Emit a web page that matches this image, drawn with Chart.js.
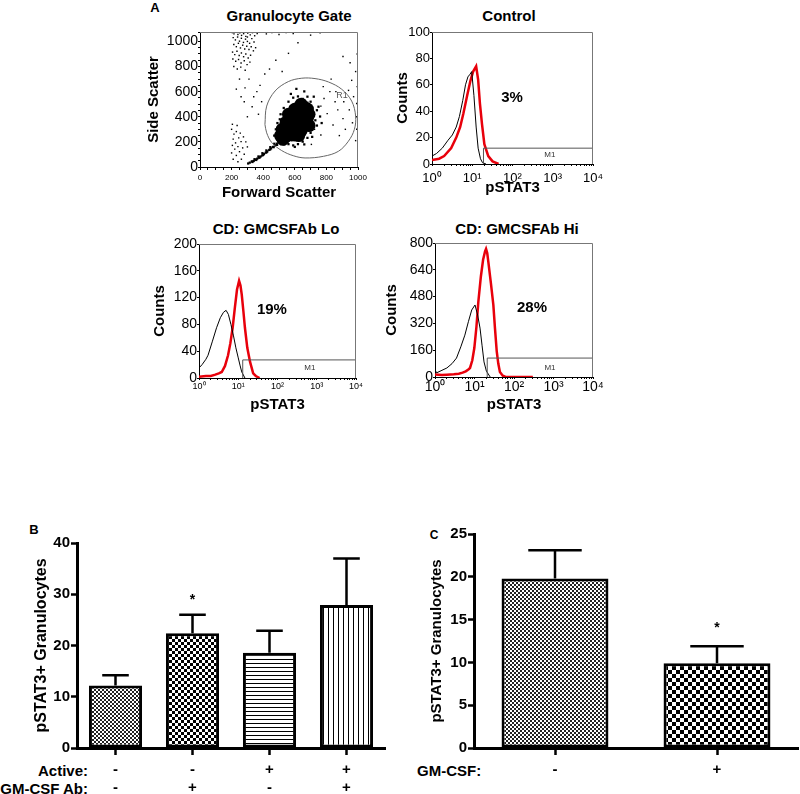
<!DOCTYPE html>
<html>
<head>
<meta charset="utf-8">
<script src="https://cdn.jsdelivr.net/npm/chart.js@4.4.1/dist/chart.umd.min.js"></script>
<style>
  html, body { margin: 0; padding: 0; background: #fff; overflow: hidden; }
  #fig { position: relative; width: 800px; height: 794px; overflow: hidden;
         font-family: "Liberation Sans", Arial, sans-serif; color: #000; }
  #fig canvas { position: absolute; }
  .t, .r, .l { position: absolute; font-weight: bold; white-space: nowrap; font-size: 15px; line-height: 1; }
  .t { transform: translate(-50%, -50%); }
  .r { transform: translate(-100%, -50%); }
  .l { transform: translate(0, -50%); }
</style>
</head>
<body>
<div id="fig">
  <div class="t" style="left:155px;top:7px;font-size:13px">A</div>
  <div class="t" style="left:289px;top:15px">Granulocyte Gate</div>
  <div class="t" style="left:509px;top:15px">Control</div>
  <div class="t" style="left:276px;top:228px">CD: GMCSFAb Lo</div>
  <div class="t" style="left:517px;top:228px">CD: GMCSFAb Hi</div>
  <div class="t" style="left:34px;top:529px;font-size:13px">B</div>
  <div class="t" style="left:434px;top:535px;font-size:12px">C</div>
  <div class="r" style="left:88px;top:770px">Active:</div>
  <div class="r" style="left:88px;top:788px">GM-CSF Ab:</div>
  <div class="l" style="left:417px;top:770px">GM-CSF:</div>
</div>
<script>
// ---- panel A: scatter gate (forward scatter, side scatter) ----
const gateR1 = [[411,339],[422,485],[475,605],[559,680],[644,707],[728,704],[813,677],[897,619],
  [960,525],[985,405],[977,299],[939,205],[876,125],[781,85],[665,72],[590,90],[517,131],
  [454,195],[422,272],[411,339]];

const sparseEvents = [
  [205,1070],[215,1060],[228,1072],[240,1055],[252,1068],[263,1048],[276,1062],[290,1040],[302,1066],
  [318,1052],[332,1070],[346,1045],[362,1062],[210,1030],[224,1012],[238,1035],[250,1002],[262,1025],
  [275,992],[288,1018],[300,1000],[314,985],[328,1022],[342,995],[214,975],[230,958],[243,985],
  [256,948],[270,970],[283,940],[296,962],[310,935],[324,958],[338,925],[352,950],[206,915],
  [220,895],[234,922],[248,888],[262,908],[276,878],[290,900],[305,868],[320,890],[208,860],
  [226,842],[244,856],[260,828],[280,846],[298,815],[316,835],[214,800],[236,780],[258,795],
  [286,770],[300,1035],[280,1075],[380,1072],[420,1060],[455,1070],[500,1055],[545,1070],[590,1062],
  [640,1072],[700,1050],[760,1068],
  [285,630],[340,560],[380,650],[250,700],[410,740],[480,850],[560,905],[620,990],[330,480],
  [370,420],[300,400],[280,520],[440,780],[520,760],[360,600],[230,620],[260,560],[390,520],[310,700],
  [905,880],[950,830],[985,760],[960,690],[995,640],[1000,600],[972,560],[992,505],[1000,455],
  [945,455],[905,385],[965,352],[992,300],[855,520],[822,600],[785,545],[872,455],[920,300],
  [882,250],[842,335],[805,425],[765,255],[705,180],[725,300],[765,485],[985,210],[1000,350],
  [990,400],[940,610],[910,520],[860,600],[830,700],[780,640],[1000,700],[1000,800],[995,900],
  [200,300],[215,262],[230,282],[210,222],[225,192],[245,232],[205,172],[220,142],[240,162],
  [260,202],[200,112],[230,92],[250,122],[270,152],[210,62],[280,102],[262,62],[240,42],
  [205,340],[235,330],[255,270],[275,240],[290,200],[300,160]
];

const haloEvents = [
  [315,35],[328,45],[340,48],[350,58],[362,66],[372,74],[384,84],[394,92],[405,104],[416,114],
  [426,124],[438,136],[450,148],[462,160],[474,172],[486,186],[498,198],[510,210],[332,40],
  [356,56],[378,76],[400,96],[422,118],[444,140],[466,158],[488,176],[345,62],[370,84],[395,110],
  [420,132],[445,158],[470,185],[305,28],
  [480,300],[500,262],[520,232],[470,250],[490,350],[510,420],[530,470],[560,520],[590,552],
  [620,562],[650,542],[680,512],[700,472],[720,422],[730,372],[720,322],[700,272],[680,232],
  [650,202],[620,182],[590,172],[560,182],[540,202],[600,502],[640,472],[700,382],[520,382],
  [545,312],[510,332],[740,452],[760,402],[660,602],[610,622],[575,582],[495,280],[505,380],
  [540,440],[570,480],[700,520],[740,330],[710,240],[660,180],[600,160],[530,180],[485,230],
  [620,520],[680,560],[750,480],[770,350],[720,560]
];

const coreEvents = [
  [600,340],[620,380],[640,420],[660,450],[580,300],[560,270],[540,240],[525,220],[610,300],
  [570,350],[630,330],[650,380],[590,400],[670,410],[550,300],[600,255],[640,290],[660,350],
  [580,255],[620,445],[680,462],[535,270],[610,420],[560,330],[680,390],[575,400],[545,355],
  [520,300],[690,420],[650,470],[600,460],[560,420],[690,330],[625,250],[510,250],[640,500]
];

// ---- panel A: pSTAT3 histograms (channel, counts) ----
const ctrlBlackX = [1, 1.3, 1.8, 2.5, 3.2, 4, 4.8, 5.8, 6.8, 7.8, 8.8, 9.7, 11, 12.5, 14, 16, 18, 22];
const ctrlBlackY = [6, 8, 12, 18, 22, 28, 36, 48, 60, 66, 68, 70, 52, 28, 12, 4, 1, 0];
const ctrlRedX = [1, 1.5, 2, 3, 4, 5, 6, 7.5, 9, 10.5, 12.5, 14, 15.5, 17.5, 20, 25, 32, 45];
const ctrlRedY = [3, 4, 6, 12, 20, 28, 38, 52, 63, 70, 74, 64, 46, 30, 15, 6, 2, 0];

const loBlackX = [1, 1.2, 1.5, 1.7, 2.2, 2.8, 3.5, 4.2, 4.9, 5.6, 6.5, 7.5, 8.7, 10, 11.2, 12.3, 14.8];
const loBlackY = [15, 20, 28, 34, 55, 75, 90, 98, 101, 95, 80, 64, 45, 30, 18, 9, 0];
const loRedX = [1, 1.5, 2, 2.6, 3.2, 3.8, 4.6, 5.5, 6.3, 7.2, 8.2, 9.3, 10.5, 11.4, 12.3, 13.5, 14.8, 17, 20, 24, 28, 35];
const loRedY = [2, 3, 3, 5, 7, 9, 18, 34, 52, 75, 105, 132, 145, 138, 124, 100, 75, 45, 24, 7, 3, 0];

const hiBlackX = [1, 1.1, 1.5, 2, 2.7, 3.5, 4.5, 5.7, 7, 8.5, 10.3, 12, 13.8, 15.5, 17.4, 20, 25];
const hiBlackY = [42, 25, 40, 54, 80, 113, 180, 250, 330, 400, 430, 370, 292, 190, 90, 35, 0];
const hiRedX = [1, 1.5, 2, 3, 4, 5, 6, 7, 7.7, 8.8, 9.9, 11.2, 12.5, 14.5, 16.5, 18.5, 19.6, 21, 22.4, 26, 30, 33, 36.5, 40, 44, 52, 60, 100, 300];
const hiRedY = [15, 12, 14, 16, 20, 26, 34, 45, 54, 100, 173, 300, 448, 600, 700, 750, 765, 740, 687, 560, 430, 290, 155, 80, 30, 8, 2, 0, 0];

// M1 marker: start channel and level (control, lo, hi)
const m1Start = [19, 13, 21];
const m1Level = [12, 27, 113];
const pctLabels = ['3%', '19%', '28%'];

// ---- panel B ----
const activeRow = ['-', '-', '+', '+'];
const abRow = ['-', '+', '-', '+'];
const bValues = [12.2, 22.4, 18.6, 27.9];
const bErrors = [2.0, 3.6, 4.3, 9.1];

// ---- panel C ----
const cLabels = ['-', '+'];
const cValues = [19.8, 9.9];
const cErrors = [3.3, 2.0];

Chart.defaults.font.family = '"Liberation Sans", Arial, sans-serif';
Chart.defaults.color = '#000';
Chart.defaults.animation = false;
Chart.defaults.plugins.legend.display = false;
Chart.defaults.plugins.tooltip.enabled = false;

const SUP = ['\u2070', '\u00b9', '\u00b2', '\u00b3', '\u2074'];
const pts = (xs, ys) => xs.map((x, i) => ({x, y: ys[i]}));
const pairs = arr => arr.map(p => ({x: p[0], y: p[1]}));

// fixed axis sizes so the plot areas land where the figure has them
const fitY = w => s => { s.width = w; s.paddingTop = 0; s.paddingBottom = 0; };
const fitX = h => s => { s.height = h; s.paddingLeft = 0; s.paddingRight = 0; };

function mount(area, W, H, padRight) {
  const pad = {left: 4, top: 12, right: padRight == null ? 22 : padRight, bottom: 2};
  const c = document.createElement('canvas');
  const x = area.l - W - pad.left, y = area.t - pad.top;
  c.width = area.r - x + pad.right;
  c.height = area.b + H + pad.bottom - y;
  c.style.left = x + 'px';
  c.style.top = y + 'px';
  document.getElementById('fig').appendChild(c);
  return {canvas: c, padding: pad};
}

const notes = {
  id: 'notes',
  afterDatasetsDraw(chart, args, opts) {
    const {ctx, scales} = chart;
    (opts.items || []).forEach(n => {
      ctx.save();
      ctx.font = n.font;
      ctx.fillStyle = n.color || '#000';
      ctx.textAlign = 'center';
      ctx.textBaseline = 'middle';
      ctx.fillText(n.text, scales.x.getPixelForValue(n.x), scales.y.getPixelForValue(n.y));
      ctx.restore();
    });
  }
};

const boxFrame = {
  id: 'boxFrame',
  afterDraw(chart, args, opts) {
    if (!opts.color) return;
    const a = chart.chartArea, ctx = chart.ctx;
    ctx.save();
    ctx.strokeStyle = opts.color;
    ctx.lineWidth = 1;
    ctx.beginPath();
    ctx.moveTo(a.left, a.top + 0.5);
    ctx.lineTo(a.right - 0.5, a.top + 0.5);
    ctx.lineTo(a.right - 0.5, a.bottom);
    ctx.stroke();
    ctx.restore();
  }
};

const errorBars = {
  id: 'errorBars',
  afterDatasetsDraw(chart, args, opts) {
    if (!opts.errors) return;
    const ctx = chart.ctx, y = chart.scales.y;
    const vals = chart.data.datasets[0].data;
    ctx.save();
    ctx.strokeStyle = '#000';
    ctx.lineWidth = 2.5;
    chart.getDatasetMeta(0).data.forEach((bar, i) => {
      const top = y.getPixelForValue(vals[i] + opts.errors[i]);
      const half = bar.width * 0.25;
      ctx.beginPath();
      ctx.moveTo(bar.x, bar.y);
      ctx.lineTo(bar.x, top);
      ctx.moveTo(bar.x - half, top);
      ctx.lineTo(bar.x + half, top);
      ctx.stroke();
    });
    ctx.restore();
  }
};

// ---------- scatter gate ----------
(function () {
  const area = {l: 200, r: 358, t: 32, b: 167};
  const m = mount(area, 55, 35);
  new Chart(m.canvas, {
    type: 'scatter',
    data: {
      datasets: [
        { data: pairs(gateR1), showLine: true, borderColor: '#666', borderWidth: 1, pointRadius: 0, tension: 0.35 },
        { data: pairs(sparseEvents), pointStyle: 'rect', pointRadius: 1.0, backgroundColor: '#000', borderWidth: 0 },
        { data: pairs(haloEvents), pointStyle: 'rect', pointRadius: 1.6, backgroundColor: '#000', borderWidth: 0 },
        { data: pairs(coreEvents), pointRadius: 6.5, backgroundColor: '#000', borderWidth: 0 }
      ]
    },
    options: {
      responsive: false,
      layout: {padding: m.padding},
      scales: {
        x: {
          type: 'linear', min: 0, max: 1000, afterFit: fitX(35),
          grid: {drawOnChartArea: false, tickLength: 3, color: '#000'},
          border: {color: '#000'},
          ticks: {stepSize: 50, autoSkip: false, maxRotation: 0, padding: 3, font: {size: 8},
                  callback: v => (v % 200 === 0 ? String(v) : '')},
          title: {display: true, text: 'Forward Scatter', padding: 0, font: {size: 15, weight: 'bold'}}
        },
        y: {
          type: 'linear', min: 0, max: 1075, afterFit: fitY(55),
          grid: {drawOnChartArea: false, tickLength: 2, color: '#000'},
          border: {color: '#000'},
          ticks: {stepSize: 50, autoSkip: false, padding: 0, font: {size: 14},
                  callback: v => (v % 200 === 0 ? String(v) : '')},
          title: {display: true, text: 'Side Scatter', padding: 0, font: {size: 15, weight: 'bold'}}
        }
      },
      plugins: {
        boxFrame: {color: '#777'},
        notes: {items: [{x: 898, y: 573, text: 'R1', font: '9px "Liberation Sans", Arial', color: '#555'}]}
      }
    },
    plugins: [boxFrame, notes]
  });
})();

// ---------- histograms ----------
const decadeTicks = [];
[1, 10, 100, 1000].forEach(d => { for (let k = 1; k < 10; k++) decadeTicks.push(k * d); });
decadeTicks.push(10000);

function histogram(i, area, W, H, yMax, yStep, xFont, yFont, xPad, black, red) {
  const m = mount(area, W, H);
  const lvl = m1Level[i];
  new Chart(m.canvas, {
    type: 'scatter',
    data: {
      datasets: [
        { data: [{x: m1Start[i], y: 0}, {x: m1Start[i], y: lvl}, {x: 10000, y: lvl}],
          showLine: true, borderColor: '#555', borderWidth: 1, pointRadius: 0 },
        { data: black, showLine: true, borderColor: '#000', borderWidth: 1, pointRadius: 0 },
        { data: red, showLine: true, borderColor: '#e8000b', borderWidth: 2.5, pointRadius: 0 }
      ]
    },
    options: {
      responsive: false,
      layout: {padding: m.padding},
      scales: {
        x: {
          type: 'logarithmic', min: 1, max: 10000, afterFit: fitX(H),
          afterBuildTicks: s => { s.ticks = decadeTicks.map(v => ({value: v})); },
          grid: {drawOnChartArea: false, tickLength: 2, color: '#000'},
          border: {color: '#000'},
          ticks: {autoSkip: false, maxRotation: 0, padding: xPad, font: {size: xFont},
                  callback: v => {
                    const p = Math.log10(v);
                    return Math.abs(p - Math.round(p)) < 1e-6 ? '10' + SUP[Math.round(p)] : '';
                  }},
          title: {display: true, text: 'pSTAT3', padding: 0, font: {size: 15, weight: 'bold'}}
        },
        y: {
          type: 'linear', min: 0, max: yMax, afterFit: fitY(W),
          grid: {drawOnChartArea: false, tickLength: 2, color: '#000'},
          border: {color: '#000'},
          ticks: {stepSize: yStep, padding: 0, font: {size: yFont}},
          title: {display: true, text: 'Counts', padding: 0, font: {size: 15, weight: 'bold'}}
        }
      },
      plugins: {
        boxFrame: {color: '#777'},
        notes: {items: [
          {x: [97, 72, 285][i], y: [50, 101, 412][i], text: pctLabels[i], font: 'bold 15px "Liberation Sans", Arial'},
          {x: [850, 670, 815][i], y: [7, 15, 54][i], text: 'M1', font: '8px "Liberation Sans", Arial', color: '#333'}
        ]}
      }
    },
    plugins: [boxFrame, notes]
  });
}

histogram(0, {l: 432, r: 593, t: 32, b: 164}, 38, 33, 100, 20, 13, 13, 5,
          pts(ctrlBlackX, ctrlBlackY), pts(ctrlRedX, ctrlRedY));
histogram(1, {l: 199, r: 356, t: 244, b: 378}, 48, 36, 200, 40, 9, 14, 1,
          pts(loBlackX, loBlackY), pts(loRedX, loRedY));
histogram(2, {l: 435, r: 593, t: 243, b: 377}, 52, 37, 800, 160, 14, 14, 0,
          pts(hiBlackX, hiBlackY), pts(hiRedX, hiRedY));

// ---------- bar fills ----------
function checker(cell, dark) {
  const c = document.createElement('canvas');
  c.width = c.height = cell * 2;
  const g = c.getContext('2d');
  g.fillStyle = '#fff'; g.fillRect(0, 0, cell * 2, cell * 2);
  g.fillStyle = dark;
  g.fillRect(0, 0, cell, cell);
  g.fillRect(cell, cell, cell, cell);
  return g.createPattern(c, 'repeat');
}
function stripes(gap, vertical) {
  const c = document.createElement('canvas');
  c.width = c.height = gap;
  const g = c.getContext('2d');
  g.fillStyle = '#fff'; g.fillRect(0, 0, gap, gap);
  g.fillStyle = '#000';
  if (vertical) g.fillRect(0, 0, 1, gap); else g.fillRect(0, 0, gap, 1);
  return g.createPattern(c, 'repeat');
}

function barChart(area, W, labels, values, errors, fills, yMax, yStep, titleSize, barPct, star) {
  const m = mount(area, W, 46, 4);
  new Chart(m.canvas, {
    type: 'bar',
    data: {
      labels,
      datasets: [{
        data: values, backgroundColor: fills, borderColor: '#000', borderWidth: 3,
        borderSkipped: false, categoryPercentage: 1, barPercentage: barPct
      }]
    },
    options: {
      responsive: false,
      layout: {padding: m.padding},
      scales: {
        x: {
          afterFit: fitX(46),
          grid: {drawOnChartArea: false, offset: false, tickLength: 7, tickWidth: 2.5, color: '#000'},
          border: {color: '#000', width: 3},
          ticks: {autoSkip: false, maxRotation: 0, padding: 6, font: {size: 15, weight: 'bold'}}
        },
        y: {
          min: 0, max: yMax, afterFit: fitY(W),
          grid: {drawOnChartArea: false, tickLength: 6, tickWidth: 2.5, color: '#000'},
          border: {color: '#000', width: 3},
          ticks: {stepSize: yStep, padding: 1, font: {size: 15, weight: 'bold'}},
          title: {display: true, text: 'pSTAT3+ Granulocytes', padding: 0, font: {size: titleSize, weight: 'bold'}}
        }
      },
      plugins: {
        errorBars: {errors},
        notes: {items: [{x: 1, y: star, text: '*', font: 'bold 14px "Liberation Sans", Arial'}]}
      }
    },
    plugins: [errorBars, notes]
  });
}

barChart({l: 77, r: 385, t: 543, b: 748}, 45,
  activeRow.map((a, i) => [a, abRow[i]]), bValues, bErrors,
  [checker(2, '#222'), checker(3, '#000'), stripes(4, false), stripes(5, true)],
  40, 10, 16, 0.69, 28.9);

barChart({l: 474, r: 798, t: 534, b: 748}, 46,
  cLabels, cValues, cErrors,
  [checker(2, '#222'), checker(4, '#000')],
  25, 5, 15, 0.66, 14.0);
</script>
</body>
</html>
